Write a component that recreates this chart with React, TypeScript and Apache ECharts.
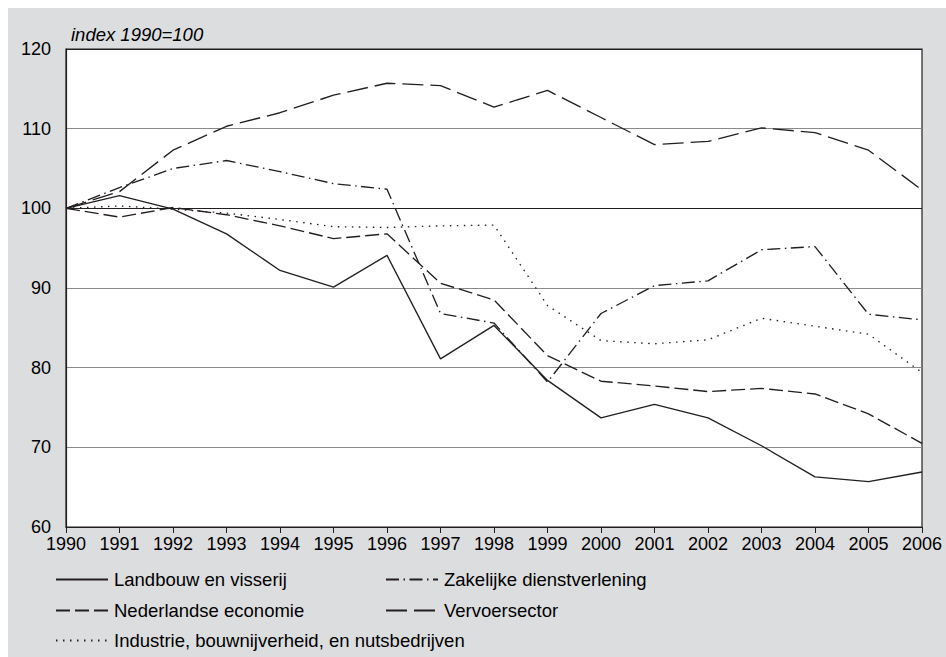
import React, { useEffect, useRef } from "react";
import * as echarts from "echarts";

const years = ["1990","1991","1992","1993","1994","1995","1996","1997","1998","1999","2000","2001","2002","2003","2004","2005","2006"];

const landbouw = [100, 101.6, 99.9, 96.8, 92.2, 90.1, 94.1, 81.1, 85.3, 78.4, 73.7, 75.4, 73.7, 70.2, 66.3, 65.7, 66.9];
const zakelijke = [100, 102.6, 105.0, 106.0, 104.6, 103.1, 102.4, 86.8, 85.6, 78.2, 86.8, 90.3, 90.9, 94.8, 95.2, 86.7, 86.0];
const nederlandse = [100, 98.9, 100.1, 99.2, 97.8, 96.2, 96.8, 90.6, 88.5, 81.5, 78.3, 77.7, 77.0, 77.4, 76.7, 74.2, 70.5];
const industrie = [100, 100.3, 99.9, 99.4, 98.6, 97.7, 97.6, 97.8, 97.9, 87.8, 83.4, 83.0, 83.5, 86.2, 85.2, 84.2, 79.4];
const vervoer = [100, 102.1, 107.3, 110.3, 112.0, 114.2, 115.7, 115.4, 112.7, 114.8, 111.4, 108.0, 108.4, 110.1, 109.5, 107.3, 102.3];

const seriesNames = [
  "Landbouw en visserij",
  "Zakelijke dienstverlening",
  "Nederlandse economie",
  "Vervoersector",
  "Industrie, bouwnijverheid, en nutsbedrijven",
];

const yTitle = "index 1990=100";

const FONT = '"Liberation Sans", Arial, Helvetica, sans-serif';
const INK = "#231f20";

export default function App() {
  const ref = useRef<HTMLDivElement>(null);

  useEffect(() => {
    if (!ref.current) return;
    const chart = echarts.init(ref.current, null, { renderer: "svg" });

    const mkLine = (name: string, data: number[], type: any) => ({
      name,
      type: "line",
      data,
      symbol: "none",
      showSymbol: false,
      lineStyle: { color: INK, width: 1.35, type, cap: "butt" },
      itemStyle: { color: INK },
      emphasis: { disabled: true },
    });

    const legendBase = {
      itemWidth: 52,
      itemHeight: 20,
      itemGap: 0,
      selectedMode: false,
      itemStyle: { opacity: 0 },
      textStyle: { fontSize: 18.5, fontFamily: FONT, color: "#000", padding: [0, 0, 0, 1] },
    };

    const option: any = {
      animation: false,
      backgroundColor: "#dcdddf",
      textStyle: { fontFamily: FONT },
      title: {
        text: yTitle,
        left: 58,
        top: 12,
        textStyle: { fontSize: 18.5, fontStyle: "italic", fontWeight: "normal", color: "#000", fontFamily: FONT },
      },
      grid: {
        left: 58,
        top: 41,
        right: 24,
        bottom: 130,
        show: true,
        backgroundColor: "#ffffff",
        borderColor: INK,
        borderWidth: 1.2,
      },
      legend: [
        { ...legendBase, data: [seriesNames[0]], left: 42, top: 557 },
        { ...legendBase, data: [seriesNames[1]], left: 372, top: 557 },
        { ...legendBase, data: [seriesNames[2]], left: 42, top: 588 },
        { ...legendBase, data: [seriesNames[3]], left: 372, top: 588 },
        { ...legendBase, data: [seriesNames[4]], left: 42, top: 618 },
      ],
      xAxis: {
        type: "category",
        data: years,
        boundaryGap: false,
        axisLine: { show: true, lineStyle: { color: INK, width: 1.2 } },
        axisTick: { show: true, length: 6, lineStyle: { color: INK, width: 1 } },
        axisLabel: { interval: 0, fontSize: 18, color: "#000", margin: 8, fontFamily: FONT },
        splitLine: { show: false },
      },
      yAxis: {
        type: "value",
        min: 60,
        max: 120,
        interval: 10,
        axisLine: { show: true, lineStyle: { color: INK, width: 1.2 } },
        axisTick: { show: false },
        axisLabel: { fontSize: 18, color: "#000", margin: 15, fontFamily: FONT },
        splitLine: {
          show: true,
          lineStyle: {
            color: [INK, "#8a8a8a", "#8a8a8a", "#8a8a8a", INK, "#8a8a8a", INK],
            width: 1.2,
          },
        },
      },
      series: [
        mkLine(seriesNames[0], landbouw, "solid"),
        mkLine(seriesNames[1], zakelijke, [13, 4.5, 1.5, 4.5]),
        mkLine(seriesNames[2], nederlandse, [14, 5]),
        mkLine(seriesNames[3], vervoer, [21, 7]),
        mkLine(seriesNames[4], industrie, [1.5, 5.5]),
      ],
    };

    chart.setOption(option);
    return () => chart.dispose();
  }, []);

  return (
    <div
      ref={ref}
      style={{ position: "fixed", left: 8, top: 8, width: 938, height: 649 }}
    />
  );
}
